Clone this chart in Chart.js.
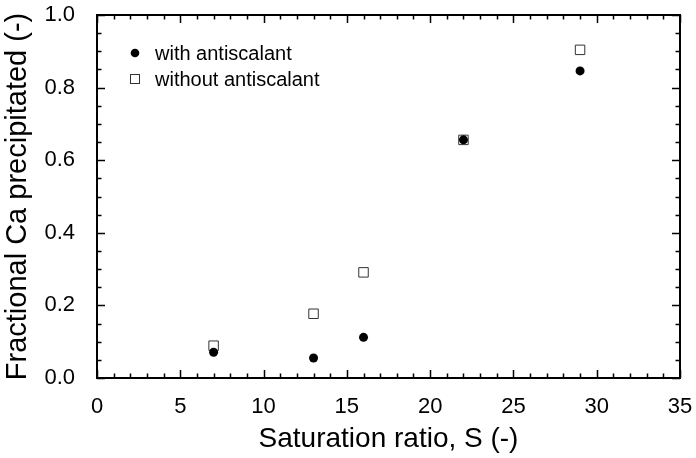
<!DOCTYPE html>
<html><head><meta charset="utf-8">
<script src="https://cdn.jsdelivr.net/npm/chart.js@4/dist/chart.umd.min.js"></script>
<style>html,body{margin:0;padding:0;background:#fff}</style>
</head><body>
<canvas id="c" width="696" height="458"></canvas>
<script>
const saturation = [7, 13, 16, 22, 29];
const withAntiscalant = [0.071, 0.055, 0.112, 0.656, 0.846];
const withoutAntiscalant = [0.089, 0.177, 0.291, 0.656, 0.904];
const seriesLabels = ['with antiscalant', 'without antiscalant'];
const xTitle = 'Saturation ratio, S (-)';
const yTitle = 'Fractional Ca precipitated (-)';
const xRange = [0, 35];
const yRange = [0, 1.0];

const FONT = '"Liberation Sans", Arial, Helvetica, sans-serif';

const frameTicks = {
  id: 'frameTicks',
  afterDraw(chart) {
    const {ctx, chartArea: a, scales: {x, y}} = chart;
    ctx.save();
    ctx.strokeStyle = '#000';
    ctx.lineWidth = 1.5;
    ctx.beginPath();
    for (let v = xRange[0]; v <= xRange[1] + 1e-9; v += 1) {
      const px = Math.round(x.getPixelForValue(v)) + 0.5;
      const len = (Math.round(v) % 5 === 0) ? 8 : 4.5;
      ctx.moveTo(px, a.bottom); ctx.lineTo(px, a.bottom - len);
      ctx.moveTo(px, a.top); ctx.lineTo(px, a.top + len);
    }
    for (let i = 0; i <= 20; i++) {
      const v = i * 0.05;
      const py = Math.round(y.getPixelForValue(v)) + 0.5;
      const len = (i % 4 === 0) ? 8 : 4.5;
      ctx.moveTo(a.left, py); ctx.lineTo(a.left + len, py);
      ctx.moveTo(a.right, py); ctx.lineTo(a.right - len, py);
    }
    ctx.stroke();
    ctx.lineWidth = 2;
    ctx.strokeRect(a.left, a.top, a.right - a.left, a.bottom - a.top);

    // legend
    const metas = chart.data.datasets;
    const lx = a.left + 38, ly0 = a.top + 38, dy = 26;
    ctx.font = '20px ' + FONT;
    ctx.textBaseline = 'middle';
    metas.forEach((ds, i) => {
      const cy = ly0 + i * dy;
      if (ds.pointStyle === 'circle') {
        ctx.beginPath(); ctx.arc(lx, cy, 4.3, 0, Math.PI * 2); ctx.fillStyle = '#000'; ctx.fill();
      } else {
        ctx.lineWidth = 1; ctx.strokeStyle = '#333';
        ctx.strokeRect(lx - 4.5, cy - 4.5, 9, 9);
      }
      ctx.fillStyle = '#000';
      ctx.fillText(ds.label, lx + 20, cy + 1);
    });
    ctx.restore();
  }
};

new Chart(document.getElementById('c'), {
  type: 'scatter',
  data: {
    datasets: [
      {
        label: seriesLabels[0],
        data: saturation.map((s, i) => ({x: s, y: withAntiscalant[i]})),
        pointStyle: 'circle', pointRadius: 4.5, backgroundColor: '#000', borderWidth: 0
      },
      {
        label: seriesLabels[1],
        data: saturation.map((s, i) => ({x: s, y: withoutAntiscalant[i]})),
        pointStyle: 'rect', pointRadius: 6.7, backgroundColor: 'rgba(0,0,0,0)', borderColor: '#333', borderWidth: 1
      }
    ]
  },
  options: {
    responsive: false, animation: false, devicePixelRatio: 1,
    layout: {padding: {top: 15, right: 16, left: 0, bottom: 0}},
    plugins: {legend: {display: false}, tooltip: {enabled: false}},
    scales: {
      x: {
        type: 'linear', min: xRange[0], max: xRange[1],
        grid: {display: false}, border: {display: false},
        ticks: {stepSize: 5, color: '#000', padding: 8, font: {family: FONT, size: 22}, maxRotation: 0},
        title: {display: true, text: xTitle, color: '#000', font: {family: FONT, size: 28}, padding: {top: 0, bottom: 2}},
        afterFit(s) { s.height = 80; s.paddingLeft = 0; s.paddingRight = 0; }
      },
      y: {
        type: 'linear', min: yRange[0], max: yRange[1],
        grid: {display: false}, border: {display: false},
        ticks: {stepSize: 0.2, color: '#000', padding: 14, font: {family: FONT, size: 22}, callback: v => v.toFixed(1)},
        title: {display: true, text: yTitle, color: '#000', font: {family: FONT, size: 29}, padding: {top: 1, bottom: 0}},
        afterFit(s) { s.width = 97; s.paddingTop = 0; s.paddingBottom = 0; }
      }
    }
  },
  plugins: [frameTicks]
});
</script>
</body></html>
